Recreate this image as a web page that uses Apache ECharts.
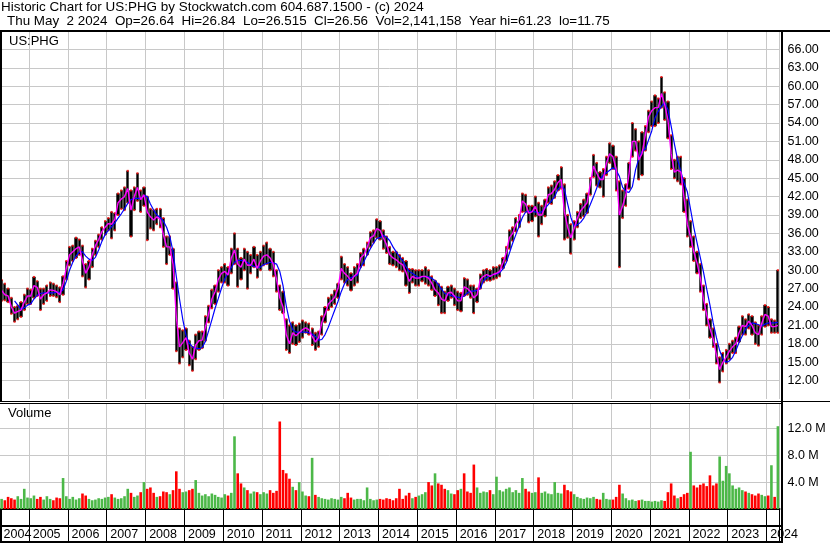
<!DOCTYPE html>
<html><head><meta charset="utf-8">
<script src="https://cdn.jsdelivr.net/npm/echarts@6/dist/echarts.min.js"></script>
<style>html,body{margin:0;padding:0;background:#fff;}#c{width:830px;height:543px;}</style>
</head><body><div id="c"></div>
<script>
// Monthly data, Apr 2004 .. Apr 2024 (241 months)
const years = ['2004','2005','2006','2007','2008','2009','2010','2011','2012','2013','2014','2015','2016','2017','2018','2019','2020','2021','2022','2023','2024'];
const hi = [
 28.4,27.8,27.0,25.5,24.0,24.2,24.8,26.0,27.0,
 26.8,28.9,28.2,27.0,27.0,27.5,28.0,27.8,27.5,27.2,29.0,31.5,
 33.8,34.0,35.3,35.0,34.0,31.0,31.5,33.5,34.8,35.8,37.0,38.0,
 38.5,39.5,39.3,42.5,43.0,43.5,46.2,43.0,43.5,45.8,43.0,43.5,
 42.0,40.0,39.8,40.0,40.0,38.5,35.5,35.5,33.5,28.0,20.5,20.2,
 20.5,18.5,17.5,19.5,20.0,20.0,22.5,24.2,26.8,27.5,30.0,30.5,
 31.0,30.5,33.5,36.0,33.5,32.0,33.5,33.0,32.5,33.8,32.5,33.0,
 34.0,34.5,33.5,33.0,30.0,27.5,26.5,22.0,21.0,21.5,21.0,21.3,
 21.8,21.5,21.3,20.5,19.8,20.0,22.5,24.0,25.5,26.0,26.7,27.8,
 32.2,31.0,30.5,29.5,30.5,31.0,32.8,33.5,34.5,36.2,36.5,38.3,
 38.0,36.5,35.5,33.8,33.0,33.0,32.5,32.0,31.5,30.2,30.2,30.0,
 30.0,30.0,30.5,30.0,29.0,28.3,27.8,27.3,26.5,27.3,27.5,27.0,
 26.5,26.3,28.7,28.5,27.5,27.5,27.0,29.3,30.0,30.2,30.0,30.5,
 30.5,30.8,32.0,33.8,36.5,37.0,38.5,39.0,42.5,42.3,40.5,40.5,
 42.0,41.0,40.5,41.5,43.5,43.8,44.5,45.5,46.8,44.0,39.0,37.5,
 38.0,39.5,40.8,41.5,42.5,45.0,48.8,47.5,46.0,46.5,48.5,50.7,
 50.3,48.5,44.5,43.0,44.0,47.5,54.0,53.0,51.0,52.5,53.5,56.0,
 57.5,58.5,58.0,61.5,59.0,57.5,52.0,48.0,48.5,48.5,45.0,41.5,
 38.0,35.5,33.0,31.0,27.5,24.5,22.0,20.5,18.0,15.8,16.5,17.0,
 18.0,18.5,19.0,20.8,22.5,22.0,22.8,22.5,21.5,21.0,22.5,24.3,
 24.0,22.0,21.8,30.0
];
const lo = [
 25.0,25.1,24.8,22.9,21.6,22.0,22.4,23.5,24.5,
 24.5,25.5,25.8,23.5,24.5,25.0,25.8,25.8,25.6,24.8,26.0,28.5,
 30.8,31.5,32.0,32.5,29.0,27.2,28.5,30.5,32.5,33.8,35.0,35.8,
 36.5,35.2,36.5,39.0,40.0,39.8,41.0,35.5,39.8,41.3,39.5,40.5,
 34.9,36.8,36.5,37.5,37.0,33.8,31.0,32.5,27.0,16.8,14.8,15.8,
 17.0,14.5,13.6,15.5,17.0,17.3,18.5,21.5,23.8,24.5,26.5,28.0,
 28.0,27.5,29.5,31.0,27.3,28.5,30.0,27.0,29.5,30.5,28.8,30.0,
 30.8,31.0,30.0,29.0,26.5,23.5,23.0,17.0,16.5,18.0,17.8,18.3,
 19.0,19.8,19.5,17.8,17.0,17.5,19.5,21.5,23.5,24.0,24.5,25.5,
 28.5,28.0,27.5,26.7,27.5,28.0,30.5,30.8,32.5,33.8,34.5,35.3,
 35.0,33.5,32.8,31.0,30.8,30.5,30.0,29.8,27.5,26.3,28.0,27.5,
 27.5,28.2,27.8,27.5,26.8,25.8,24.3,23.0,23.0,25.0,25.5,24.3,
 23.5,23.3,25.8,26.0,25.5,23.0,24.8,27.0,28.0,28.3,28.3,28.5,
 28.7,29.0,30.3,31.5,33.5,34.8,36.3,37.0,39.5,39.5,37.8,38.0,
 38.8,35.5,37.5,38.8,41.0,40.8,41.8,43.0,43.3,35.0,35.3,32.7,
 35.0,37.0,38.5,38.8,39.3,42.3,45.2,43.8,43.5,42.0,45.5,47.5,
 46.5,43.0,30.5,38.5,40.5,43.3,48.5,49.5,44.8,45.5,49.5,52.5,
 53.5,53.5,54.0,56.5,54.5,51.5,46.5,45.0,44.5,44.0,39.5,35.5,
 33.8,31.5,29.5,26.5,23.5,21.0,19.0,17.5,14.8,11.7,13.5,14.8,
 15.5,16.5,16.5,18.3,19.5,19.5,20.5,19.5,18.0,17.7,19.5,20.8,
 21.0,19.8,19.8,19.8
];
const maShort = [
 26.7,26.0,25.8,24.0,23.0,23.3,23.5,24.8,25.8,
 25.8,27.5,27.2,25.3,26.0,26.3,26.8,26.7,26.5,26.0,27.8,30.3,
 32.5,33.0,33.5,33.8,31.5,29.5,30.5,32.5,34.0,35.0,36.3,37.0,
 37.6,37.5,38.3,41.0,41.6,42.0,43.3,39.8,42.0,43.5,41.5,42.3,
 39.5,38.7,38.2,38.7,38.3,35.8,33.8,33.8,31.0,22.5,17.5,18.2,
 19.0,16.5,15.5,17.8,18.5,18.6,20.7,22.9,25.3,26.5,28.5,29.5,
 29.8,29.2,32.0,33.3,31.0,30.5,31.8,30.8,30.8,31.8,30.3,31.5,
 32.3,32.5,32.0,31.0,28.5,25.5,24.0,19.5,18.0,19.8,19.3,19.8,
 20.3,20.6,20.3,19.2,18.3,19.0,21.5,22.8,24.5,25.0,25.6,27.0,
 30.3,29.5,29.0,28.3,29.0,29.5,32.0,32.5,33.7,35.3,35.6,36.8,
 36.5,35.3,34.2,32.5,32.0,31.7,31.2,30.9,29.7,28.2,29.0,28.7,
 28.7,29.0,29.0,28.7,27.9,26.8,26.3,25.3,25.0,26.3,26.4,25.8,
 25.0,25.0,27.3,27.0,26.5,25.5,26.0,28.5,29.0,29.3,29.0,29.3,
 29.5,29.8,31.2,32.8,35.3,36.0,37.5,38.2,41.3,40.8,39.3,39.5,
 40.4,39.0,39.0,40.3,42.3,42.5,43.2,44.3,44.8,39.5,37.0,35.3,
 36.8,38.5,39.7,40.3,41.0,44.0,47.0,45.8,44.8,44.8,47.5,49.0,
 48.5,46.5,39.0,40.5,42.3,45.8,51.0,51.0,48.0,49.0,52.0,55.0,
 56.0,56.5,56.5,58.8,57.0,54.5,49.0,46.0,46.3,46.0,41.8,37.5,
 35.5,33.0,31.2,28.8,25.3,22.7,20.5,18.8,16.2,13.8,15.0,15.8,
 16.8,17.5,18.0,19.8,21.0,20.8,21.7,21.0,19.8,19.5,21.3,22.8,
 22.5,20.8,20.8,21.0
];
const maLong = [
 null,null,null,null,25.0,24.3,23.6,23.9,24.3,
 24.5,25.3,25.9,26.2,26.3,26.3,26.3,26.3,26.4,26.4,26.8,28.2,
 30.0,31.3,32.3,33.0,33.0,32.3,31.8,31.6,32.1,33.3,34.7,35.8,
 36.5,37.1,37.7,38.5,39.2,40.0,40.9,41.5,41.7,41.7,41.7,42.2,
 42.0,40.8,39.8,39.0,38.6,38.0,37.0,35.5,33.0,29.0,25.3,22.0,
 19.4,18.1,17.5,17.3,17.2,17.4,18.4,20.1,21.9,23.8,25.4,27.1,
 28.6,29.6,30.4,31.3,31.6,31.6,31.5,31.3,30.9,30.6,30.5,30.5,
 30.9,31.1,31.3,31.2,31.0,29.8,27.5,24.2,21.7,20.3,19.9,19.9,
 19.9,19.9,19.8,19.6,19.2,18.6,18.7,19.5,20.7,22.1,23.5,24.9,
 26.5,27.8,28.5,28.8,29.0,29.2,30.4,31.4,32.5,33.5,34.4,35.2,
 35.3,35.7,35.4,34.8,33.8,33.0,32.2,31.5,30.6,29.8,29.5,29.1,
 28.8,28.9,29.0,28.9,28.7,28.3,27.7,26.9,26.2,26.0,25.9,25.7,
 25.6,25.5,25.8,26.3,26.6,26.6,26.7,27.0,28.3,28.8,29.1,29.3,
 29.4,29.6,30.2,31.2,32.8,34.4,35.8,37.2,38.6,39.5,39.6,39.6,
 39.5,39.4,39.5,40.1,40.7,41.3,42.0,43.2,43.7,43.2,40.8,38.6,
 37.1,37.4,37.8,38.5,39.5,40.7,42.0,43.4,44.8,45.5,45.9,46.3,
 46.7,46.3,45.3,43.5,42.8,42.7,43.6,46.4,48.2,49.4,49.7,51.2,
 52.7,54.8,55.9,56.7,57.3,56.2,53.5,50.6,48.0,46.1,44.2,42.8,
 39.9,37.0,34.5,32.1,29.7,26.9,24.3,21.4,19.0,16.9,15.5,15.0,
 15.2,15.8,16.9,18.2,19.3,20.4,21.0,21.4,21.3,21.1,20.9,21.2,
 21.4,21.4,21.4,21.5
];
// volume in millions
const volume = [
 1.5,1.3,1.8,1.6,1.4,1.9,1.5,3.0,1.7,
 1.6,2.0,1.5,1.8,1.4,1.9,1.5,1.3,1.7,1.6,4.6,1.9,
 1.5,1.8,1.4,1.6,2.3,2.0,1.5,1.3,1.4,1.6,1.5,1.7,
 1.8,2.2,1.7,1.5,1.6,1.9,3.0,2.4,1.8,2.0,2.5,4.0,
 3.0,3.2,2.4,1.8,1.9,2.6,2.5,2.2,2.8,5.6,3.0,2.5,
 2.6,2.8,3.0,4.3,2.4,2.0,2.2,1.9,2.3,2.1,1.8,1.7,
 2.2,2.0,2.4,10.8,5.3,3.8,3.2,2.8,2.3,2.6,2.5,2.2,
 2.5,2.3,2.8,2.4,2.7,13.0,5.8,5.3,4.5,3.3,2.8,4.0,
 2.6,2.0,1.9,7.6,2.1,1.8,1.6,1.5,1.4,1.6,1.5,1.4,
 1.8,1.6,2.4,1.7,1.4,1.5,1.5,1.3,3.2,1.5,1.3,1.4,
 1.5,1.4,1.6,1.5,1.3,1.6,3.0,1.5,2.0,2.4,1.6,1.8,
 2.0,2.2,2.5,4.0,3.5,5.3,3.8,3.6,3.0,2.8,2.3,2.2,
 2.8,3.0,5.3,2.6,2.4,6.6,3.2,2.4,2.6,2.5,2.8,2.2,
 4.8,2.8,2.6,3.0,3.2,2.5,2.8,2.4,4.6,3.0,2.6,2.4,
 2.5,4.7,2.4,2.6,2.3,2.2,4.0,2.4,2.3,3.6,2.8,2.6,
 2.2,1.8,1.6,1.5,1.7,1.6,1.8,1.5,1.4,2.4,1.5,1.4,
 1.4,1.8,3.6,2.3,1.6,1.3,1.4,1.2,1.3,1.4,1.2,1.2,
 1.1,1.2,1.1,1.3,1.2,2.5,3.8,2.0,1.6,1.8,2.2,2.4,
 8.5,3.5,3.2,3.6,3.8,3.4,5.0,3.5,3.8,7.8,4.2,6.4,
 5.3,3.5,3.0,3.2,2.8,2.6,2.4,2.2,2.0,2.3,2.1,1.9,
 2.0,6.5,1.8,12.3
];
// u = up (green), d = down (red)
const volSide = [
 'udddduuuu','uudduuuddduu','uuuudduuuuuu','uduuuuuduudu','dddudddudddu',
 'udduuuuuuuuu','uduudduduudu','uudddddddudu','uududuuuuuuu','uddduuuuuuuu',
 'ddddddddddud','uuudduddduud','dudddduuuudu','uuuuuuuuuddu','uduuuuuuuddd',
 'uuuuuuudduuu','ddduuuuuduuu','uuuudddduddd','udddddddduuu','uuuuududdduu','dudu'
].join('');
const headerLines = [
 'Historic Chart for US:PHG by Stockwatch.com 604.687.1500 - (c) 2024',
 'Thu May  2 2024  Op=26.64  Hi=26.84  Lo=26.515  Cl=26.56  Vol=2,141,158  Year hi=61.23  lo=11.75'
];

const months = [];
{ let y = 2004, m = 4;
  while (y < 2024 || (y === 2024 && m <= 4)) { months.push(y + '-' + String(m).padStart(2, '0')); m++; if (m > 12) { m = 1; y++; } } }

const FONT = '"Liberation Sans", Arial, sans-serif';
const GREEN = '#4cb848', RED = '#ff0000', GRID = '#c8c8c8';
const isJan = (i, v) => String(v).slice(5) === '01';

const candle = hi.map((h, i) => [lo[i], h, lo[i], h]);
const tips = [];
hi.forEach((h, i) => { tips.push([i, h]); tips.push([i, lo[i]]); });
const volData = volume.map((v, i) => ({ value: v, itemStyle: { color: volSide[i] === 'u' ? GREEN : RED } }));

const L = (x1, y1, x2, y2, w) => ({ type: 'line', silent: true, z: 100, shape: { x1, y1, x2, y2 }, style: { stroke: '#000', lineWidth: w } });
const T = (x, y, text, size) => ({ type: 'text', silent: true, z: 101, x, y, style: { text, fill: '#000', font: size + 'px ' + FONT, verticalAlign: 'middle', align: 'left' } });

const chart = echarts.init(document.getElementById('c'));
chart.setOption({
  animation: false,
  backgroundColor: '#fff',
  grid: [
    { left: -1.5, right: 50.5, top: 31, height: 368 },
    { left: -1.5, right: 50.5, top: 404, height: 105 }
  ],
  xAxis: [
    { type: 'category', gridIndex: 0, data: months, boundaryGap: true,
      axisLine: { show: false }, axisTick: { show: false }, axisLabel: { show: false },
      splitLine: { show: true, interval: isJan, lineStyle: { color: GRID, width: 1 } } },
    { type: 'category', gridIndex: 1, data: months, boundaryGap: true,
      axisLine: { show: true, lineStyle: { color: '#000', width: 2 } },
      axisTick: { show: true, interval: isJan, length: 33, lineStyle: { color: '#000', width: 1 } },
      axisLabel: { show: true, interval: (i, v) => i === 0 || isJan(i, v), formatter: v => v.slice(0, 4),
        align: 'left', padding: [0, 0, 0, 2], margin: 19, color: '#000', fontSize: 12.5, fontFamily: FONT },
      splitLine: { show: true, interval: isJan, lineStyle: { color: GRID, width: 1 } } }
  ],
  yAxis: [
    { type: 'value', gridIndex: 0, position: 'right', min: 9, max: 69, interval: 3,
      axisLine: { show: false }, axisTick: { show: false },
      axisLabel: { margin: 8, color: '#000', fontSize: 12.5, fontFamily: FONT, formatter: v => (v <= 9 || v >= 69) ? '' : v.toFixed(2) },
      splitLine: { show: true, showMinLine: false, showMaxLine: false, lineStyle: { color: GRID, width: 1 } } },
    { type: 'value', gridIndex: 1, position: 'right', min: 0, max: 15.6, interval: 4,
      axisLine: { show: false }, axisTick: { show: false },
      axisLabel: { margin: 8, color: '#000', fontSize: 12.5, fontFamily: FONT, formatter: v => (v <= 0 || v > 13) ? '' : v.toFixed(1) + ' M' },
      splitLine: { show: true, showMinLine: false, showMaxLine: false, lineStyle: { color: GRID, width: 1 } } }
  ],
  series: [
    { type: 'candlestick', xAxisIndex: 0, yAxisIndex: 0, data: candle, barWidth: 2.7, z: 2,
      itemStyle: { color: '#000', color0: '#000', borderColor: '#000', borderColor0: '#000', borderWidth: 0.4 } },
    { type: 'scatter', xAxisIndex: 0, yAxisIndex: 0, data: tips, symbol: 'rect', symbolSize: [2, 2], z: 3,
      itemStyle: { color: RED } },
    { type: 'line', xAxisIndex: 0, yAxisIndex: 0, data: maLong, showSymbol: false, z: 4,
      lineStyle: { color: '#0000ff', width: 1.2 } },
    { type: 'line', xAxisIndex: 0, yAxisIndex: 0, data: maShort, showSymbol: false, z: 5,
      lineStyle: { color: '#ff00ff', width: 1.4 } },
    { type: 'bar', xAxisIndex: 1, yAxisIndex: 1, data: volData, barWidth: 2.6, z: 2 }
  ],
  graphic: [
    L(0, 31, 830, 31, 2),
    L(0, 401.5, 830, 401.5, 1),
    L(0, 403.5, 782, 403.5, 1),
    L(782, 30, 782, 543, 2),
    L(1, 31, 1, 401, 2),
    L(1, 509, 1, 543, 2),
    L(0, 526, 782, 526, 2),
    L(0, 542, 782, 542, 2),
    T(1, 7.5, headerLines[0], 13.45),
    T(7, 21.5, headerLines[1], 13.4),
    T(9, 41, 'US:PHG', 13),
    T(8, 413.5, 'Volume', 13)
  ]
});
</script>
</body></html>
